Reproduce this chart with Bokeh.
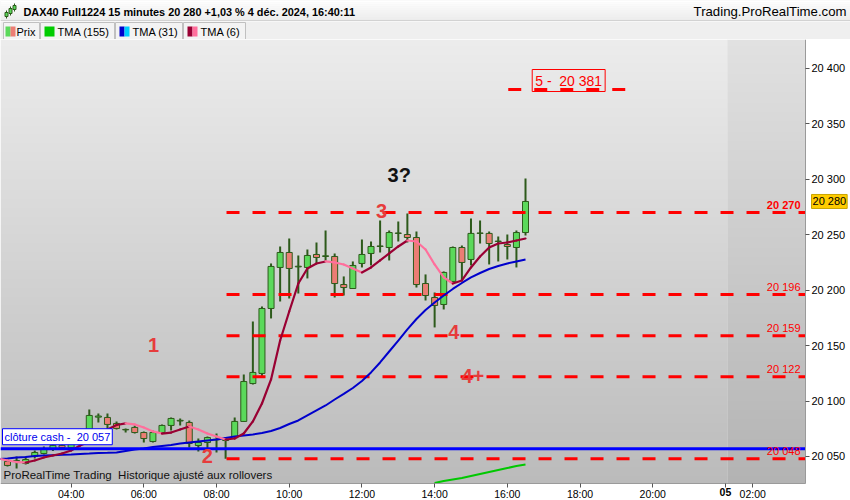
import numpy as np
from bokeh.plotting import figure
from bokeh.layouts import column
from bokeh.models import Range1d, FixedTicker, Label, ColumnDataSource, LinearAxis
from bokeh.core.properties import value
from bokeh.embed import file_html
from bokeh.resources import INLINE

FONT = "Liberation Sans"
NB = "\u00a0"

# ---------------- data (15-minute bars, index 0 = 02:15, index 57 = 16:30) ----------------
opens = [20045.5, 20045.5, 20043.7, 20050.0, 20052.7, 20057.0, 20060.0, 20058.0, 20062.0, 20068.9,
         20085.5, 20085.2, 20079.8, 20074.4, 20076.2, 20071.6, 20063.5, 20071.6, 20078.0, 20082.0,
         20080.7, 20059.9, 20062.6, 20065.0, 20064.4, 20068.0, 20081.6, 20115.8, 20124.9, 20183.5,
         20220.5, 20234.0, 20221.0, 20220.5, 20232.2, 20230.4, 20230.4, 20205.1, 20201.5, 20224.1,
         20233.1, 20239.4, 20238.5, 20251.2, 20250.2, 20247.5, 20206.0, 20193.4, 20187.1, 20207.9,
         20238.5, 20227.7, 20251.2, 20251.2, 20243.9, 20241.2, 20238.5, 20252.0]
highs = [20047.3, 20050.0, 20050.0, 20055.4, 20059.0, 20063.0, 20062.0, 20064.0, 20068.0, 20092.4,
         20088.8, 20088.8, 20081.6, 20075.3, 20078.0, 20072.5, 20073.5, 20078.9, 20085.2, 20084.3,
         20082.5, 20066.2, 20068.0, 20070.7, 20067.1, 20085.2, 20124.0, 20171.8, 20185.3, 20224.1,
         20239.4, 20246.6, 20231.3, 20236.7, 20243.0, 20253.9, 20233.1, 20212.4, 20225.9, 20245.7,
         20243.9, 20262.9, 20253.9, 20262.0, 20269.2, 20253.0, 20214.2, 20197.9, 20216.9, 20239.4,
         20240.3, 20264.7, 20262.9, 20253.0, 20248.4, 20250.2, 20253.9, 20300.8]
lows = [20041.0, 20039.2, 20042.8, 20048.2, 20051.8, 20055.0, 20056.0, 20056.0, 20060.0, 20067.1,
        20080.7, 20075.3, 20074.4, 20071.6, 20070.7, 20062.6, 20062.6, 20070.7, 20073.5, 20078.0,
        20058.1, 20054.5, 20055.4, 20053.6, 20048.0, 20066.2, 20081.0, 20114.9, 20122.2, 20174.5,
        20189.8, 20192.5, 20197.0, 20210.6, 20224.1, 20226.8, 20193.4, 20195.2, 20201.5, 20220.5,
        20222.3, 20234.0, 20226.8, 20243.9, 20243.0, 20202.4, 20190.7, 20166.4, 20182.6, 20207.0,
        20208.8, 20222.3, 20242.1, 20223.2, 20225.9, 20227.7, 20220.5, 20249.3]
closes = [20041.9, 20046.4, 20047.3, 20053.6, 20057.2, 20060.0, 20058.0, 20062.0, 20066.0, 20087.0,
          20086.5, 20078.9, 20075.3, 20074.0, 20071.6, 20066.2, 20071.6, 20078.0, 20084.3, 20082.6,
          20061.7, 20062.6, 20067.1, 20065.5, 20065.3, 20081.6, 20117.6, 20125.8, 20183.5, 20221.4,
          20234.0, 20219.6, 20221.6, 20231.3, 20229.5, 20231.0, 20206.0, 20202.4, 20222.3, 20232.2,
          20239.4, 20239.9, 20252.0, 20251.6, 20247.5, 20205.1, 20195.2, 20186.2, 20216.0, 20238.5,
          20225.0, 20251.2, 20251.6, 20242.1, 20244.3, 20239.4, 20252.0, 20280.0]

ma_start = -1   # moving averages start one bar before the first visible candle
tma6 = [20048.2, 20046.4, 20045.0, 20044.6, 20046.4, 20049.1, 20050.9, 20052.7, 20055.4, 20059.9,
        20063.5, 20068.9, 20074.4, 20078.4, 20079.8, 20078.9, 20076.2, 20072.6, 20070.7, 20071.6,
        20074.4, 20077.1, 20074.4, 20070.7, 20068.0, 20065.3, 20066.2, 20070.7, 20081.6, 20097.8,
        20119.5, 20154.6, 20180.8, 20206.0, 20219.6, 20224.1, 20225.9, 20225.0, 20223.2, 20219.6,
        20216.0, 20220.5, 20226.8, 20233.1, 20239.4, 20244.8, 20243.9, 20236.7, 20223.2, 20211.5,
        20206.0, 20208.8, 20220.5, 20230.4, 20238.5, 20242.1, 20243.0, 20244.8, 20246.6]
tma31 = [20047.7, 20048.2, 20049.1, 20049.5, 20050.5, 20050.9, 20051.2, 20051.5, 20051.8, 20052.3,
         20052.7, 20053.2, 20053.3, 20053.6, 20055.0, 20056.3, 20057.2, 20058.6, 20059.5, 20060.4,
         20061.7, 20062.6, 20063.5, 20064.4, 20065.3, 20066.7, 20068.0, 20068.9, 20069.8, 20071.2,
         20073.0, 20075.7, 20079.3, 20082.5, 20087.0, 20091.5, 20096.0, 20101.4, 20106.4, 20111.8,
         20118.1, 20125.8, 20134.8, 20144.7, 20154.6, 20164.6, 20174.0, 20182.1, 20188.9, 20195.2,
         20201.1, 20206.5, 20211.5, 20215.5, 20219.1, 20221.8, 20224.1, 20225.9, 20227.7]
tma155_start = 47   # earlier values lie below the visible price range
tma155 = [20026.1, 20027.9, 20029.3, 20030.6, 20032.4, 20034.2, 20036.0, 20037.8, 20039.6, 20041.4,
          20042.8]

level_values = [20270, 20196, 20159, 20122, 20048]
level_labels = ["20 270", "20 196", "20 159", "20 122", "20 048"]
level_start_bar = 24.1
target_value = 20381
target_label = "5 -" + NB + " 20 381"
target_from_bar, target_to_bar = 55.1, 68.0
cash_close = 20057
cash_label = "cl\u00f4ture cash -" + NB + " 20 057"
last_price = 20280
last_label = "20 280"

wave_text = ["1", "2", "3", "4", "4+"]
wave_bar = [16.07, 22.0, 41.15, 49.1, 51.2]
wave_price = [20151.0, 20050.0, 20271.4, 20162.3, 20122.6]
question_text = ["3?"]
question_bar = [43.1]
question_price = [20303.9]

price_ticks = [20050, 20100, 20150, 20200, 20250, 20300, 20350, 20400]
price_tick_labels = ["20 050", "20 100", "20 150", "20 200", "20 250", "20 300", "20 350", "20 400"]
time_ticks = [7, 15, 23, 31, 39, 47, 55, 63, 71, 82]
time_labels = ["04:00", "06:00", "08:00", "10:00", "12:00", "14:00", "16:00", "18:00", "20:00", "02:00"]
day_tick = [79]
day_label = ["05"]
day_boundary_bar = 79.2

title_text = "DAX40 Full1224 15 minutes 20 280 +1,03 % 4 d\u00e9c. 2024, 16:40:11"
site_text = "Trading.ProRealTime.com"
legend_names = ["Prix", "TMA (155)", "TMA (31)", "TMA (6)"]
footer_text = "ProRealTime Trading" + NB + " Historique ajust\u00e9 aux rollovers"

# ---------------- styles / layout ----------------
GREEN = "#5bd95b"
RED = "#ec7d74"
OUTLINE = "#2d5a1b"
CRIMSON = "#990033"
PINK = "#ff6f9c"
BLUE = "#0000cc"
LEVEL_RED = "#ff0000"
WAVE_RED = "#e63c3c"

TOTAL_W = 850
X_START, X_AXIS, X_END = -0.770, 87.81, 92.76        # frame spans whole width, axis drawn at X_AXIS
Y_BOTTOM, Y_AXIS, Y_TOP = 20010.3, 20025.6, 20426.1  # frame spans to page bottom, axis at Y_AXIS


def vgrad(top, bottom, n=200):
    img = np.empty((n, 1), dtype=np.uint32)
    view = img.view(dtype=np.uint8).reshape((n, 1, 4))
    t = np.linspace(0.0, 1.0, n)
    for k in range(3):
        view[:, 0, k] = np.round(bottom[k] + (top[k] - bottom[k]) * t).astype(np.uint8)
    view[:, 0, 3] = 255
    return img


# ---------------- header ----------------
hdr = figure(width=TOTAL_W, height=21, x_range=Range1d(0, TOTAL_W), y_range=Range1d(21, 0),
             toolbar_location=None, output_backend="svg", x_axis_location=None, y_axis_location=None,
             min_border=0, outline_line_color=None)
hdr.grid.visible = False
hdr.background_fill_color = "#f4f4f4"
hdr.border_fill_color = "#f4f4f4"
shades = ["#ffffff", "#fcfcfc", "#fafafa", "#f8f8f8", "#f6f6f6", "#f4f4f4", "#f2f2f2",
          "#f0f0f0", "#eeeeee", "#ececec"]
hdr.quad(left=[0] * 10, right=[TOTAL_W] * 10, top=[2 * k for k in range(10)],
         bottom=[2 * k + 2 for k in range(10)], fill_color=shades, line_color=None)
hdr.segment(x0=[0], y0=[20.5], x1=[TOTAL_W], y1=[20.5], line_color="#b4b4b4", line_width=1)
hdr.segment(x0=[6, 10, 14], y0=[18, 15, 11], x1=[6, 10, 14], y1=[10, 6, 3], line_color=OUTLINE, line_width=1)
hdr.quad(left=[4.5, 8.5, 12.5], right=[7.5, 11.5, 15.5], top=[12, 8, 5], bottom=[16, 13, 9],
         fill_color=GREEN, line_color=OUTLINE, line_width=1)
hdr.text(x=[23], y=[11], text=[title_text], text_font=value(FONT), text_font_style="bold",
         text_font_size=value("10.9px"), text_baseline="middle", text_color="black")
hdr.text(x=[TOTAL_W - 4], y=[11], text=[site_text], text_font=value(FONT),
         text_font_size=value("13.2px"), text_baseline="middle", text_align="right", text_color="black")

# ---------------- legend row ----------------
leg = figure(width=TOTAL_W, height=18, x_range=Range1d(0, TOTAL_W), y_range=Range1d(18, 0),
             toolbar_location=None, output_backend="svg", x_axis_location=None, y_axis_location=None,
             min_border=0, outline_line_color=None)
leg.grid.visible = False
leg.background_fill_color = "#efefef"
leg.border_fill_color = "#efefef"
cell_l = [3, 40, 115, 183]
cell_r = [39, 114, 182, 245]
leg.quad(left=cell_l, right=cell_r, top=[1] * 4, bottom=[18] * 4, fill_color="#f3f3f3",
         line_color="#c0c0c0", line_width=1)
sw_l = [5, 10, 44, 119, 124, 187, 192]
sw_r = [10, 15, 54, 124, 129, 192, 197]
sw_c = [GREEN, RED, "#00cc00", "#0000cc", "#00ccff", CRIMSON, PINK]
leg.quad(left=sw_l, right=sw_r, top=[5] * 7, bottom=[15] * 7, fill_color=sw_c, line_color=None)
leg.text(x=[16, 57, 132, 200], y=[10] * 4, text=legend_names, text_font=value(FONT),
         text_font_size=value("11px"), text_baseline="middle", text_color="black")

# ---------------- main chart ----------------
p = figure(width=TOTAL_W, height=461, x_range=Range1d(X_START, X_END), y_range=Range1d(Y_BOTTOM, Y_TOP),
           y_axis_location="right", toolbar_location=None, output_backend="svg", min_border=0)
p.grid.visible = False
p.outline_line_color = None
p.background_fill_color = "white"
p.border_fill_color = "white"

p.image_rgba(image=[vgrad((236, 236, 236), (187, 187, 187))], x=X_START, y=Y_AXIS,
             dw=day_boundary_bar - X_START, dh=Y_TOP - Y_AXIS, level="image")
p.image_rgba(image=[vgrad((225, 225, 225), (179, 179, 179))], x=day_boundary_bar, y=Y_AXIS,
             dw=X_AXIS - day_boundary_bar, dh=Y_TOP - Y_AXIS, level="image")

bars = np.arange(len(opens))
o = np.array(opens)
c = np.array(closes)
up = c >= o
src = ColumnDataSource(dict(x=bars, top=np.maximum(o, c), bottom=np.minimum(o, c),
                            high=highs, low=lows, fill=np.where(up, GREEN, RED).tolist()))
p.segment(x0="x", y0="low", x1="x", y1="high", source=src, line_color=OUTLINE, line_width=2)
p.vbar(x="x", top="top", bottom="bottom", width=0.66, fill_color="fill", line_color=OUTLINE,
       line_width=1, source=src)

# support / resistance levels (dashed)
n_lv = len(level_values)
p.segment(x0=[level_start_bar] * n_lv, y0=level_values, x1=[X_AXIS] * n_lv, y1=level_values,
          line_color=LEVEL_RED, line_width=3, line_dash="13 13")
p.segment(x0=[target_from_bar], y0=[target_value], x1=[target_to_bar], y1=[target_value],
          line_color=LEVEL_RED, line_width=3, line_dash="13 13")

# moving averages
x155 = np.arange(len(tma155)) + tma155_start
p.line(x155, tma155, line_color="#00c800", line_width=2)
xma = np.arange(len(tma31)) + ma_start
p.line(xma, tma31, line_color=BLUE, line_width=2)
m6 = np.array(tma6)
x6 = np.arange(len(tma6)) + ma_start
rising = m6[1:] >= m6[:-1]
p.segment(x0=x6[:-1], y0=m6[:-1], x1=x6[1:], y1=m6[1:],
          line_color=np.where(rising, CRIMSON, PINK).tolist(), line_width=2.2, line_cap="round")

# level value labels
for lv, lt in zip(level_values, level_labels):
    p.add_layout(Label(x=X_AXIS, y=lv, x_offset=-5, y_offset=2, text=lt, text_align="right",
                       text_baseline="bottom", text_font=FONT, text_font_size="11px",
                       text_font_style="bold" if lv == level_values[0] else "normal",
                       text_color=LEVEL_RED))

# cash close line
p.segment(x0=[X_START], y0=[cash_close], x1=[X_AXIS], y1=[cash_close], line_color="#0000ff", line_width=3)
p.add_layout(Label(x=X_START, y=cash_close, x_offset=2, y_offset=4, text=cash_label, text_align="left",
                   text_baseline="bottom", text_font=FONT, text_font_size="11px", text_color="#0000ee",
                   background_fill_color="white", border_line_color="#0000ff", border_line_width=1,
                   padding=2))

# target box
p.add_layout(Label(x=(target_from_bar + target_to_bar) / 2 + 0.2, y=target_value, y_offset=9,
                   text=target_label, text_align="center", text_baseline="middle", text_font=FONT,
                   text_font_size="14px", text_color=LEVEL_RED, border_line_color=LEVEL_RED,
                   border_line_width=1, background_fill_color=None, padding=3))

# wave labels
p.text(x=wave_bar, y=wave_price, text=wave_text, text_font=value(FONT), text_font_style="bold",
       text_font_size=value("20px"), text_align="center", text_baseline="middle", text_color=WAVE_RED)
p.text(x=question_bar, y=question_price, text=question_text, text_font=value(FONT),
       text_font_style="bold", text_font_size=value("20px"), text_align="center",
       text_baseline="middle", text_color="#111111")

# footer
p.add_layout(Label(x=X_START, y=Y_AXIS, x_offset=3, y_offset=3, text=footer_text, text_align="left",
                   text_baseline="bottom", text_font=FONT, text_font_size="11.5px", text_color="#111111"))

# last price tag on the price axis
p.add_layout(Label(x=X_AXIS, y=last_price, x_offset=6, text=last_label, text_align="left",
                   text_baseline="middle", text_font=FONT, text_font_size="11px", text_color="black",
                   background_fill_color="#ffcc00", border_line_color="#c9a400", border_line_width=1,
                   padding=1))

# axes (drawn at fixed locations inside the full-size frame)
ay = p.yaxis[0]
ay.fixed_location = X_AXIS
ay.bounds = (Y_AXIS, Y_TOP)
ay.ticker = FixedTicker(ticks=price_ticks)
ay.major_label_overrides = {float(t): l for t, l in zip(price_ticks, price_tick_labels)}
ay.major_tick_out = 4
ay.major_tick_in = 0
ay.minor_tick_out = 0
ay.minor_tick_in = 0
ay.axis_line_color = "#9a9a9a"
ay.major_tick_line_color = "#555555"
ay.major_label_text_font = FONT
ay.major_label_text_font_size = "11px"
ay.major_label_text_color = "black"
ay.major_label_standoff = 2

ax = p.xaxis[0]
ax.fixed_location = Y_AXIS
ax.bounds = (X_START, X_AXIS)
ax.ticker = FixedTicker(ticks=time_ticks)
ax.major_label_overrides = {float(t): l for t, l in zip(time_ticks, time_labels)}
ax.major_tick_out = 4
ax.major_tick_in = 0
ax.minor_tick_out = 0
ax.minor_tick_in = 0
ax.axis_line_color = "#9a9a9a"
ax.major_tick_line_color = "#555555"
ax.major_label_text_font = FONT
ax.major_label_text_font_size = "10.5px"
ax.major_label_text_color = "black"
ax.major_label_standoff = 0

ax_day = LinearAxis(fixed_location=Y_AXIS, ticker=FixedTicker(ticks=day_tick),
                    major_label_overrides={float(t): l for t, l in zip(day_tick, day_label)},
                    axis_line_color=None, major_tick_out=4, major_tick_in=0, minor_tick_out=0,
                    minor_tick_in=0, major_tick_line_color="#555555", major_label_text_font=FONT,
                    major_label_text_font_size="10.5px", major_label_text_font_style="bold",
                    major_label_text_color="black", major_label_standoff=0)
p.add_layout(ax_day, "below")

layout = column(hdr, leg, p, spacing=0)
open("out.html", "w").write(file_html(layout, INLINE))
